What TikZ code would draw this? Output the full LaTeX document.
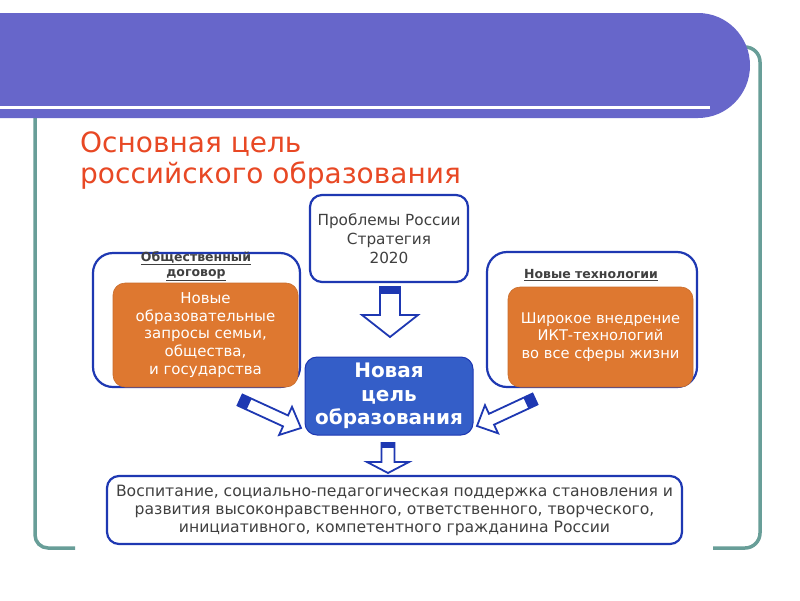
\documentclass[tikz,border=0pt]{standalone}
\usepackage{fontspec}
\setmainfont{DejaVu Sans}
\usetikzlibrary{calc}
\definecolor{band}{RGB}{103,102,202}
\definecolor{framec}{RGB}{104,158,152}
\definecolor{titlered}{RGB}{232,72,36}
\definecolor{bblue}{RGB}{30,56,178}
\definecolor{cblue}{RGB}{52,94,200}
\definecolor{orng}{RGB}{222,120,48}
\definecolor{txt}{RGB}{64,64,64}
\tikzset{
  outline/.style={draw=bblue, line width=2.2pt, fill=white, rounded corners=12pt, inner sep=0pt},
  outerbox/.style={outline, rounded corners=20pt},
  orangebox/.style={fill=orng, draw=orng!90!black, line width=0.6pt, rounded corners=12pt, text=white, align=center, inner sep=0pt},
  header/.style={text=txt, font=\bfseries\fontsize{12.5}{15}\selectfont, align=center},
  arrowline/.style={draw=bblue, line width=1.8pt, line join=miter},
}
\newcommand\blockarrow[6]{%
  \path let \p1=(#1), \p2=(#2), \n1={atan2(\y2-\y1,\x2-\x1)}, \n2={veclen(\x2-\x1,\y2-\y1)} in
    \pgfextra{\xdef\baang{\n1}\xdef\balen{\n2}\xdef\bax{\x1}\xdef\bay{\y1}};
  \begin{scope}[shift={(\bax,\bay)}, rotate=\baang, x=1pt, y=1pt]
    \fill[white] (0,-#3) -- ({\balen-#5},-#3) -- ({\balen-#5},-#4) -- (\balen,0) -- ({\balen-#5},#4) -- ({\balen-#5},#3) -- (0,#3) -- cycle;
    \fill[bblue] (0,-#3) rectangle (#6,#3);
    \draw[arrowline] (0,-#3) -- ({\balen-#5},-#3) -- ({\balen-#5},-#4) -- (\balen,0) -- ({\balen-#5},#4) -- ({\balen-#5},#3) -- (0,#3) -- cycle;
  \end{scope}}
\begin{document}
\begin{tikzpicture}[x=1pt, y=-1pt]
\useasboundingbox (0,0) rectangle (800,600);
\fill[white] (0,0) rectangle (800,600);
% frame
\draw[framec, line width=3.5pt, rounded corners=13pt] (35,118) -- (35,548) -- (75,548);
\draw[framec, line width=3.5pt, rounded corners=15pt] (730,47) -- (760,47) -- (760,548) -- (713,548);
% band
\fill[band] (-2,13) -- (698,13) arc[start angle=90, end angle=-90, x radius=52pt, y radius=52.5pt] -- (-2,118) -- cycle;
\draw[white, line width=3pt] (-2,107) -- (710,107);
% title
\node[anchor=base west, text=titlered, font=\fontsize{28}{32}\selectfont, inner sep=0pt] (t1) at (80,152) {Основная цель};
\node[anchor=base west, text=titlered, font=\fontsize{28}{32}\selectfont, inner sep=0pt] (t2) at (80,183) {российского образования};
% top box
\node[outline, minimum width=158pt, minimum height=87pt, text=txt, font=\fontsize{15.3}{19}\selectfont, align=center] (prob) at (389,238.5) {Проблемы России\\Стратегия\\2020};
% left box
\node[outerbox, minimum width=207pt, minimum height=134pt] (lout) at (196.5,320) {};
\node[header] (lhead) at (196,266) {\underline{Общественный}\\\underline{договор}};
\node[orangebox, minimum width=185pt, minimum height=104pt, font=\fontsize{15}{17.8}\selectfont] (lor) at (205.5,335) {Новые\\образовательные\\запросы семьи,\\общества,\\и государства};
% right box
\node[outerbox, minimum width=210pt, minimum height=135pt] (rout) at (592,319.5) {};
\node[header] (rhead) at (591,275) {\underline{Новые технологии}};
\node[orangebox, minimum width=185pt, minimum height=100pt, font=\fontsize{14.7}{17.8}\selectfont] (ror) at (600.5,337) {Широкое внедрение\\ИКТ-технологий\\во все сферы жизни};
% centre
\node[fill=cblue, draw=bblue, line width=1pt, rounded corners=12pt, minimum width=168pt, minimum height=78pt, text=white, font=\bfseries\fontsize{20}{23.5}\selectfont, align=center, inner sep=0pt] (goal) at (389,396) {Новая\\цель\\образования};
% bottom
\node[outline, minimum width=575pt, minimum height=68pt, text=txt, font=\fontsize{15.6}{18}\selectfont, align=center] (res) at (394.5,510) {Воспитание, социально-педагогическая поддержка становления и\\развития высоконравственного, ответственного, творческого,\\инициативного, компетентного гражданина России};
% arrows
\coordinate (a1s) at (390,287);
\coordinate (a1e) at (390,337);
\coordinate (a2s) at (388,443);
\coordinate (a2e) at (388,473);
\coordinate (a3s) at (240,400);
\coordinate (a3e) at (301,428);
\coordinate (a4s) at (535,399);
\coordinate (a4e) at (477,426);
\blockarrow{a1s}{a1e}{10}{28}{22}{7}
\blockarrow{a2s}{a2e}{6.5}{21}{11}{5}
\blockarrow{a3s}{a3e}{6}{15.5}{17}{10}
\blockarrow{a4s}{a4e}{6}{15.5}{16}{10}
\end{tikzpicture}
\end{document}
